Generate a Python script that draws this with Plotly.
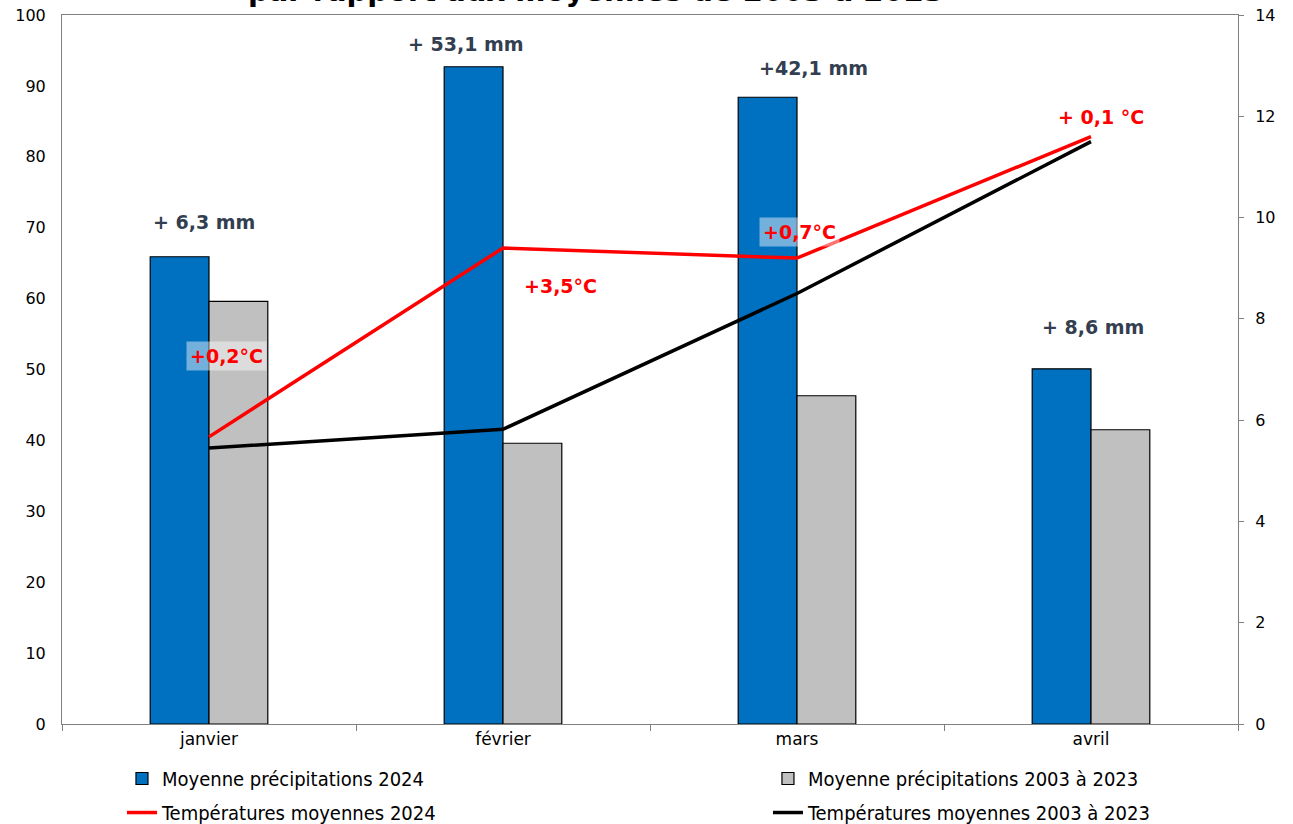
import plotly.graph_objects as go

months = ["janvier", "février", "mars", "avril"]
precip_2024 = [65.9, 92.7, 88.4, 50.1]
precip_ref = [59.6, 39.6, 46.3, 41.5]
temp_2024 = [5.67, 9.4, 9.2, 11.6]
temp_ref = [5.45, 5.82, 8.5, 11.5]
precip_labels = ["+ 6,3 mm", "+ 53,1 mm", "+42,1 mm", "+ 8,6 mm"]
temp_labels = ["+0,2°C", "+3,5°C", "+0,7°C", "+ 0,1 °C"]
names = ["Moyenne précipitations 2024", "Moyenne précipitations 2003 à 2023",
         "Températures moyennes 2024", "Températures moyennes 2003 à 2023"]
title_text = "Précipitations et températures 2024<br>par rapport aux moyennes de 2003 à 2023"

fig = go.Figure()
fig.add_trace(go.Bar(x=months, y=precip_2024, name=names[0], legend="legend", legendgroup="a",
                     marker=dict(color="#0070C0", line=dict(color="black", width=1.2))))
fig.add_trace(go.Bar(x=months, y=precip_ref, name=names[1], legend="legend2", legendgroup="b",
                     marker=dict(color="#C0C0C0", line=dict(color="black", width=1.2))))
fig.add_trace(go.Scatter(x=months, y=temp_2024, name=names[2], mode="lines", legend="legend",
                         legendgroup="c", line=dict(color="#FF0000", width=3.5), yaxis="y2"))
fig.add_trace(go.Scatter(x=months, y=temp_ref, name=names[3], mode="lines", legend="legend2",
                         legendgroup="d", line=dict(color="black", width=3.5), yaxis="y2"))

mm_shift = [(-5, 35), (-37, 23), (16, 29), (2, 42)]
for i, (lab, (dx, dy)) in enumerate(zip(precip_labels, mm_shift)):
    fig.add_annotation(x=months[i], y=precip_2024[i], xref="x", yref="y", text="<b>%s</b>" % lab,
                       showarrow=False, xshift=dx, yshift=dy, yanchor="middle",
                       font=dict(family="DejaVu Sans", size=19, color="#333F50"))

t_shift = [(17, 81, True), (57, -38, False), (2, 26, True), (10, 20, False)]
for i, (lab, (dx, dy, bg)) in enumerate(zip(temp_labels, t_shift)):
    fig.add_annotation(x=months[i], y=temp_2024[i], xref="x", yref="y2", text="<b>%s</b>" % lab,
                       showarrow=False, xshift=dx, yshift=dy, yanchor="middle",
                       bgcolor="rgba(255,255,255,0.45)" if bg else "rgba(0,0,0,0)",
                       borderpad=3,
                       font=dict(family="DejaVu Sans", size=19, color="#FF0000"))

fig.add_annotation(x=0.454, y=1.0, xref="paper", yref="paper", yanchor="bottom",
                   yshift=5, text="<b>%s</b>" % title_text, showarrow=False,
                   font=dict(family="DejaVu Sans", size=29, color="black"))

y_font = dict(family="DejaVu Sans", size=16, color="black")
x_font = dict(family="DejaVu Sans", size=17, color="black")
legend_font = dict(family="Liberation Sans Narrow, DejaVu Sans Condensed", size=20, color="black")
fig.update_layout(
    width=1293, height=824,
    margin=dict(l=62, r=55, t=15, b=100, autoexpand=False),
    paper_bgcolor="white", plot_bgcolor="white",
    barmode="group", bargap=0.6, bargroupgap=0,
    showlegend=True,
    legend=dict(orientation="v", x=0.051, y=-0.0494, xanchor="left", yanchor="top",
                tracegroupgap=5, font=legend_font, bgcolor="rgba(0,0,0,0)"),
    legend2=dict(orientation="v", x=0.6003, y=-0.0494, xanchor="left", yanchor="top",
                 tracegroupgap=5, font=legend_font, bgcolor="rgba(0,0,0,0)"),
    xaxis=dict(showline=True, linecolor="#808080", linewidth=1, mirror=True,
               ticks="outside", ticklen=6, tickcolor="#808080", tickson="boundaries",
               tickfont=x_font, showgrid=False),
    yaxis=dict(range=[0, 100], dtick=10, showline=True, linecolor="#808080", linewidth=1,
               ticks="", showgrid=False, zeroline=False, tickfont=y_font,
               ticklabelstandoff=12, ticklabeloverflow="allow"),
    yaxis2=dict(range=[0, 14], dtick=2, overlaying="y", side="right", showline=True,
                linecolor="#808080", linewidth=1, ticks="outside", ticklen=5,
                tickcolor="#808080", showgrid=False, zeroline=False, tickfont=y_font,
                ticklabelstandoff=8, ticklabeloverflow="allow"),
)

fig.write_html("out.html", config={"displayModeBar": False},
               post_script="document.body.style.margin='0';")
